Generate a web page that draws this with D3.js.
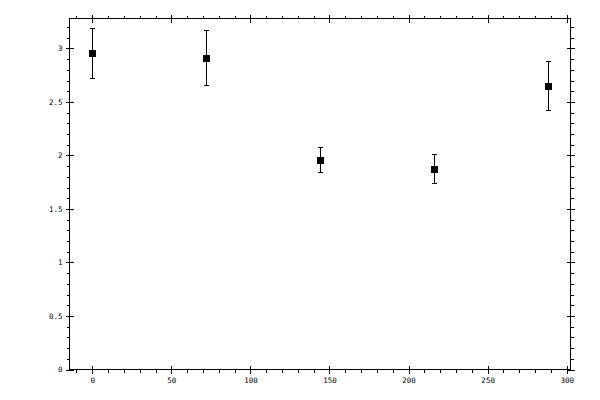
<!DOCTYPE html>
<html>
<head>
<meta charset="utf-8">
<script src="https://cdn.jsdelivr.net/npm/d3@7"></script>
<style>
  body { margin: 0; background: #fff; }
  .axis text { font-family: "DejaVu Sans Mono", monospace; font-size: 7.5px; fill: #000; }
  .axis path, .axis line { stroke: #000; stroke-width: 1; shape-rendering: crispEdges; }
</style>
</head>
<body>
<div id="vis"></div>
<script>
// Data
var xValues = [0, 72, 144, 216, 288];
var yValues = [2.96, 2.913, 1.96, 1.876, 2.651];
var yErrors = [0.235, 0.255, 0.117, 0.134, 0.229];

var xMajor = [0, 50, 100, 150, 200, 250, 300];
var yMajor = [0, 0.5, 1, 1.5, 2, 2.5, 3];

var width = 600, height = 400;
var plotLeft = 69.5, plotRight = 570.5, plotTop = 18.5, plotBottom = 369.5;

var svg = d3.select('#vis').append('svg')
    .attr('width', width)
    .attr('height', height);

var xScale = d3.scaleLinear().domain([-14.4, 302.4]).range([plotLeft, plotRight]);
var yScale = d3.scaleLinear().domain([0, 3.28]).range([plotBottom, plotTop]);

var xMinor = d3.range(-10, 301, 10);
var yMinor = d3.range(0, 33).map(function(i) { return i / 10; });

var fmt = function(d) { return String(d); };

// each side: minor ticks outside, major ticks crossing the frame
var addAxis = function(axisFn, scale, minor, major, translate, labelled, pad) {
    svg.append('g').attr('class', 'axis')
        .attr('transform', translate)
        .call(axisFn(scale).tickValues(minor).tickSize(3).tickFormat(''));
    svg.append('g').attr('class', 'axis')
        .attr('transform', translate)
        .call(axisFn(scale).tickValues(major).tickSize(4).tickPadding(pad || 3)
            .tickFormat(labelled ? fmt : ''));
    svg.append('g').attr('class', 'axis')
        .attr('transform', translate)
        .call(axisFn(scale).tickValues(major).tickSize(-4).tickFormat(''));
};

addAxis(d3.axisBottom, xScale, xMinor, xMajor, 'translate(0,' + plotBottom + ')', true, 4);
addAxis(d3.axisTop, xScale, xMinor, xMajor, 'translate(0,' + plotTop + ')', false);
addAxis(d3.axisLeft, yScale, yMinor, yMajor, 'translate(' + plotLeft + ',0)', true, 3);
addAxis(d3.axisRight, yScale, yMinor, yMajor, 'translate(' + plotRight + ',0)', false);

svg.selectAll('.axis path.domain').remove();

// frame
svg.append('rect')
    .attr('x', plotLeft)
    .attr('y', plotTop)
    .attr('width', plotRight - plotLeft)
    .attr('height', plotBottom - plotTop)
    .attr('fill', 'none')
    .attr('stroke', '#000')
    .attr('shape-rendering', 'crispEdges');

var points = xValues.map(function(x, i) {
    return { x: x, y: yValues[i], e: yErrors[i] };
});

var g = svg.append('g').attr('class', 'marks');

// error bars
var bars = g.selectAll('g.err').data(points).enter().append('g').attr('class', 'err')
    .attr('stroke', '#000').attr('stroke-width', 1).attr('shape-rendering', 'crispEdges');
bars.append('line')
    .attr('x1', function(d) { return Math.round(xScale(d.x)) + 0.5; })
    .attr('x2', function(d) { return Math.round(xScale(d.x)) + 0.5; })
    .attr('y1', function(d) { return yScale(d.y + d.e); })
    .attr('y2', function(d) { return yScale(d.y - d.e); });
bars.append('line')
    .attr('x1', function(d) { return Math.round(xScale(d.x)) - 2; })
    .attr('x2', function(d) { return Math.round(xScale(d.x)) + 3; })
    .attr('y1', function(d) { return Math.round(yScale(d.y + d.e)) + 0.5; })
    .attr('y2', function(d) { return Math.round(yScale(d.y + d.e)) + 0.5; });
bars.append('line')
    .attr('x1', function(d) { return Math.round(xScale(d.x)) - 2; })
    .attr('x2', function(d) { return Math.round(xScale(d.x)) + 3; })
    .attr('y1', function(d) { return Math.round(yScale(d.y - d.e)) + 0.5; })
    .attr('y2', function(d) { return Math.round(yScale(d.y - d.e)) + 0.5; });

// square markers
g.selectAll('rect').data(points).enter().append('rect')
    .attr('x', function(d) { return Math.round(xScale(d.x)) - 3; })
    .attr('y', function(d) { return Math.round(yScale(d.y)) - 3; })
    .attr('width', 7)
    .attr('height', 7)
    .attr('fill', '#000')
    .attr('shape-rendering', 'crispEdges');
</script>
</body>
</html>
